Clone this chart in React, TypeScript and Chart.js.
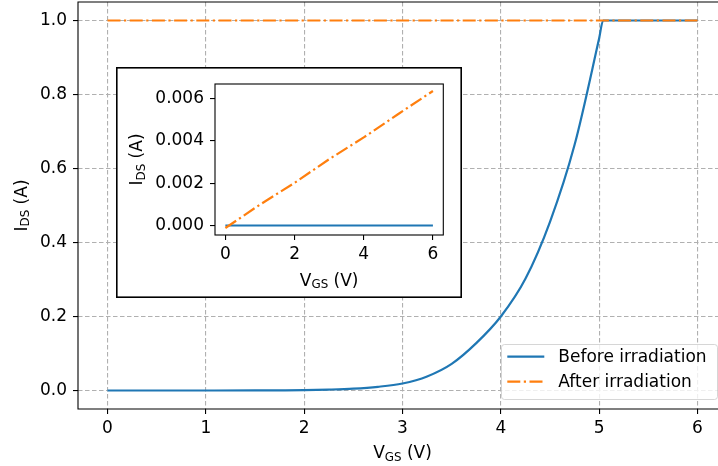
import React, { useEffect, useRef } from 'react';
import { Chart, registerables } from 'chart.js';

Chart.register(...registerables);

// ---- data ----
const vgsBefore = [0, 0.5, 1, 1.5, 1.75, 2, 2.25, 2.5, 2.75, 3, 3.25, 3.5, 3.75, 4, 4.25, 4.5, 4.75, 5, 5.04, 5.5, 6];
const idsBefore = [0, 0, 0, 0.0002, 0.0005, 0.001, 0.0025, 0.005, 0.01, 0.019, 0.038, 0.072, 0.128, 0.2, 0.302, 0.456, 0.664, 0.952, 1.0, 1.0, 1.0];
const vgsAfter = [0, 1, 2, 3, 4, 5, 6];
const idsAfter = [1.0, 1.0, 1.0, 1.0, 1.0, 1.0, 1.0];

const vgsInset = [0, 1, 2, 3, 4, 5, 6];
const idsBeforeInset = [0, 0, 0, 0, 0, 0, 0];
const idsAfterInset = [-0.00012, 0.00099, 0.00202, 0.00314, 0.00417, 0.00528, 0.00637];

const mainXTicks = [0, 1, 2, 3, 4, 5, 6];
const mainYTicks = [0, 0.2, 0.4, 0.6, 0.8, 1.0];
const insetXTicks = [0, 2, 4, 6];
const insetYTicks = [0, 0.002, 0.004, 0.006];
const legendLabels = ['Before irradiation', 'After irradiation'];

const BLUE = '#1f77b4';
const ORANGE = '#ff7f0e';
const FONT = 'DejaVu Sans';
const FS = 17;
const DASHDOT = [13, 3.5, 2.2, 3.5];
const LW = 2.2;

function drawSubLabel(
  ctx: CanvasRenderingContext2D,
  main: string,
  sub: string,
  rest: string,
  cx: number,
  baseline: number,
  size: number,
  rotate: boolean
) {
  ctx.save();
  const subSize = size * 0.7;
  ctx.font = `${size}px "${FONT}"`;
  const w1 = ctx.measureText(main).width;
  const w3 = ctx.measureText(rest).width;
  ctx.font = `${subSize}px "${FONT}"`;
  const w2 = ctx.measureText(sub).width;
  const total = w1 + w2 + w3;
  if (rotate) {
    ctx.translate(baseline, cx);
    ctx.rotate(-Math.PI / 2);
  } else {
    ctx.translate(cx, baseline);
  }
  ctx.fillStyle = '#000';
  ctx.textBaseline = 'alphabetic';
  ctx.textAlign = 'left';
  let x = -total / 2;
  ctx.font = `${size}px "${FONT}"`;
  ctx.fillText(main, x, 0);
  x += w1;
  ctx.font = `${subSize}px "${FONT}"`;
  ctx.fillText(sub, x, size * 0.13);
  x += w2;
  ctx.font = `${size}px "${FONT}"`;
  ctx.fillText(rest, x, 0);
  ctx.restore();
}

function fixedTicks(values: number[]) {
  return (scale: any) => {
    scale.ticks = values.map((v) => ({ value: v }));
  };
}

function fitTo(dim: 'width' | 'height', size: number) {
  return (s: any) => {
    s[dim] = size;
    s.paddingTop = 0;
    s.paddingBottom = 0;
    s.paddingLeft = 0;
    s.paddingRight = 0;
  };
}

function gridOpts() {
  return {
    color: '#b0b0b0',
    lineWidth: 1.1,
    tickColor: '#000',
    tickWidth: 1.1,
    tickLength: 5,
    drawTicks: true,
  };
}

export default function App() {
  const mainRef = useRef<HTMLCanvasElement>(null);
  const insetRef = useRef<HTMLCanvasElement>(null);

  useEffect(() => {
    Chart.defaults.color = '#000';
    Chart.defaults.font.family = FONT;

    const mainPlugin = {
      id: 'mainDeco',
      afterDraw(chart: any) {
        const ctx = chart.ctx as CanvasRenderingContext2D;
        const a = chart.chartArea;
        ctx.save();
        ctx.strokeStyle = '#000';
        ctx.lineWidth = 1.1;
        ctx.beginPath();
        ctx.moveTo(a.right, a.top);
        ctx.lineTo(a.left, a.top);
        ctx.lineTo(a.left, a.bottom);
        ctx.lineTo(a.right, a.bottom);
        ctx.stroke();
        ctx.restore();
        // axis titles
        drawSubLabel(ctx, 'V', 'GS', ' (V)', (a.left + a.right) / 2, 458.3, FS, false);
        drawSubLabel(ctx, 'I', 'DS', ' (A)', (a.top + a.bottom) / 2, 27, FS, true);
        // legend
        const lx = 501.5, ly = 344.5, lw = 216, lh = 55;
        ctx.save();
        ctx.beginPath();
        (ctx as any).roundRect(lx, ly, lw, lh, 3);
        ctx.fillStyle = 'rgba(255,255,255,0.8)';
        ctx.fill();
        ctx.strokeStyle = 'rgba(204,204,204,0.8)';
        ctx.lineWidth = 1;
        ctx.stroke();
        const rows = [356.7, 381.7];
        const colors = [BLUE, ORANGE];
        rows.forEach((y, i) => {
          ctx.beginPath();
          ctx.strokeStyle = colors[i];
          ctx.lineWidth = LW;
          ctx.setLineDash(i === 1 ? DASHDOT : []);
          ctx.moveTo(507.3, y);
          ctx.lineTo(544.3, y);
          ctx.stroke();
          ctx.setLineDash([]);
          ctx.fillStyle = '#000';
          ctx.font = `${FS}px "${FONT}"`;
          ctx.textBaseline = 'middle';
          ctx.textAlign = 'left';
          ctx.fillText(legendLabels[i], 558.3, y + 1);
        });
        ctx.restore();
      },
    };

    const main = new Chart(mainRef.current!, {
      type: 'line',
      data: {
        datasets: [
          {
            label: legendLabels[0],
            data: vgsBefore.map((x, i) => ({ x, y: idsBefore[i] })),
            borderColor: BLUE,
            borderWidth: LW,
            pointRadius: 0,
            cubicInterpolationMode: 'monotone',
            order: 1,
          },
          {
            label: legendLabels[1],
            data: vgsAfter.map((x, i) => ({ x, y: idsAfter[i] })),
            borderColor: ORANGE,
            borderWidth: LW,
            borderDash: DASHDOT,
            pointRadius: 0,
            order: 0,
          },
        ],
      },
      options: {
        responsive: false,
        animation: false,
        events: [],
        layout: { padding: { top: 2, right: 13, left: 0, bottom: 0 } },
        plugins: { legend: { display: false }, tooltip: { enabled: false }, title: { display: false } },
        scales: {
          x: {
            type: 'linear',
            min: -0.3,
            max: 6.3,
            afterBuildTicks: fixedTicks(mainXTicks),
            afterFit: fitTo('height', 57),
            grid: gridOpts(),
            border: { display: false, dash: [4.5, 2.5] },
            ticks: { font: { family: FONT, size: FS }, color: '#000', padding: 4, maxRotation: 0, callback: (v: any) => String(v) },
          },
          y: {
            type: 'linear',
            min: -0.05,
            max: 1.05,
            afterBuildTicks: fixedTicks(mainYTicks),
            afterFit: fitTo('width', 78),
            grid: gridOpts(),
            border: { display: false, dash: [4.5, 2.5] },
            ticks: { font: { family: FONT, size: FS }, color: '#000', padding: 6, callback: (v: any) => Number(v).toFixed(1) },
          },
        },
      },
      plugins: [mainPlugin],
    } as any);

    const insetPlugin = {
      id: 'insetDeco',
      beforeDraw(chart: any) {
        const ctx = chart.ctx as CanvasRenderingContext2D;
        ctx.save();
        ctx.fillStyle = '#fff';
        ctx.fillRect(0, 0, chart.width, chart.height);
        ctx.restore();
      },
      afterDraw(chart: any) {
        const ctx = chart.ctx as CanvasRenderingContext2D;
        const a = chart.chartArea;
        ctx.save();
        ctx.strokeStyle = '#000';
        ctx.lineWidth = 1.1;
        ctx.strokeRect(a.left, a.top, a.right - a.left, a.bottom - a.top);
        ctx.lineWidth = 1.6;
        ctx.strokeRect(0.8, 0.8, chart.width - 1.6, chart.height - 1.6);
        ctx.restore();
        drawSubLabel(ctx, 'V', 'GS', ' (V)', (a.left + a.right) / 2, 286 - 67, FS, false);
        drawSubLabel(ctx, 'I', 'DS', ' (A)', (a.top + a.bottom) / 2, 142.3 - 116, FS, true);
      },
    };

    const inset = new Chart(insetRef.current!, {
      type: 'line',
      data: {
        datasets: [
          {
            data: vgsInset.map((x, i) => ({ x, y: idsBeforeInset[i] })),
            borderColor: BLUE,
            borderWidth: LW,
            pointRadius: 0,
            order: 1,
          },
          {
            data: vgsInset.map((x, i) => ({ x, y: idsAfterInset[i] })),
            borderColor: ORANGE,
            borderWidth: LW,
            borderDash: DASHDOT,
            pointRadius: 0,
            order: 0,
          },
        ],
      },
      options: {
        responsive: false,
        animation: false,
        events: [],
        layout: { padding: { top: 17, right: 18.7, left: 0, bottom: 0 } },
        plugins: { legend: { display: false }, tooltip: { enabled: false }, title: { display: false } },
        scales: {
          x: {
            type: 'linear',
            min: -0.3,
            max: 6.3,
            afterBuildTicks: fixedTicks(insetXTicks),
            afterFit: fitTo('height', 63),
            grid: { ...gridOpts(), drawOnChartArea: false },
            border: { display: false },
            ticks: { font: { family: FONT, size: FS }, color: '#000', padding: 4, maxRotation: 0, callback: (v: any) => String(v) },
          },
          y: {
            type: 'linear',
            min: -0.00045,
            max: 0.0067,
            afterBuildTicks: fixedTicks(insetYTicks),
            afterFit: fitTo('width', 99),
            grid: { ...gridOpts(), drawOnChartArea: false },
            border: { display: false },
            ticks: { font: { family: FONT, size: FS }, color: '#000', padding: 6, callback: (v: any) => Number(v).toFixed(3) },
          },
        },
      },
      plugins: [insetPlugin],
    } as any);

    return () => {
      main.destroy();
      inset.destroy();
    };
  }, []);

  return (
    <div style={{ position: 'absolute', left: 0, top: 0, width: 718, height: 466, overflow: 'hidden', background: '#fff' }}>
      <canvas ref={mainRef} width={740} height={466} style={{ position: 'absolute', left: 0, top: 0 }} />
      <canvas ref={insetRef} width={346} height={231} style={{ position: 'absolute', left: 116, top: 67 }} />
    </div>
  );
}
